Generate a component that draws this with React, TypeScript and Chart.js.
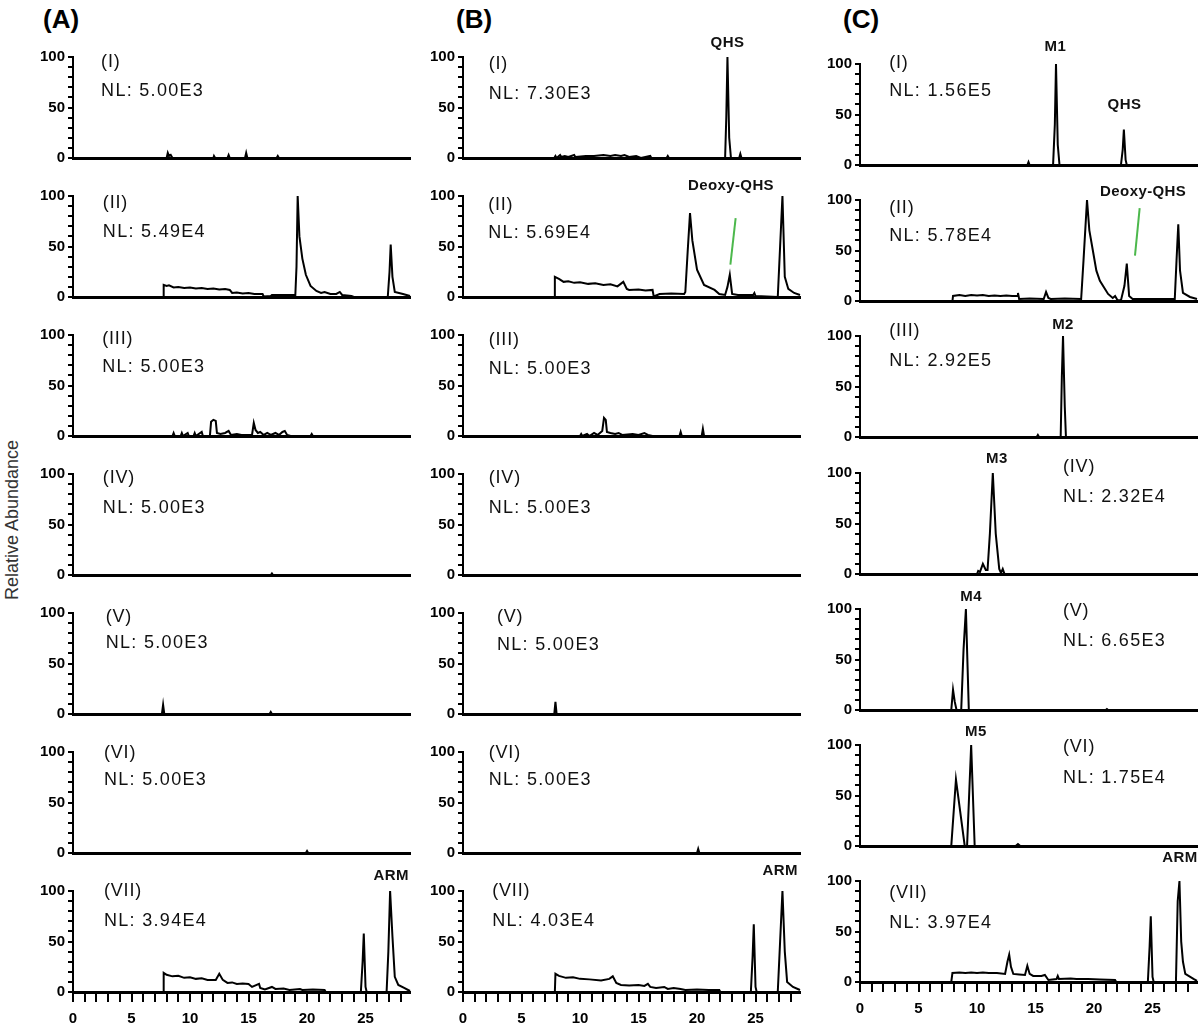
import React, { useEffect, useRef } from "react";
import { Chart, registerables } from "chart.js";
Chart.register(...registerables);

type Pt = [number, number];

// ---------------- data ----------------
const columnTitles = ["(A)", "(B)", "(C)"];
const rowTags = ["(I)", "(II)", "(III)", "(IV)", "(V)", "(VI)", "(VII)"];
const nlA = ["5.00E3", "5.49E4", "5.00E3", "5.00E3", "5.00E3", "5.00E3", "3.94E4"];
const nlB = ["7.30E3", "5.69E4", "5.00E3", "5.00E3", "5.00E3", "5.00E3", "4.03E4"];
const nlC = ["1.56E5", "5.78E4", "2.92E5", "2.32E4", "6.65E3", "1.75E4", "3.97E4"];
const yAxisTitle = "Relative Abundance";
const timeLabelStep = 5;
const abundanceLabelStep = 50;
const timeMax = 28.8;

const traceA1: Pt[] = [[0,0],[8.0,0],[8.1,5],[8.2,2],[8.35,3],[8.5,0],[12.0,0],[12.05,2],[12.15,0],[13.2,0],[13.3,3],[13.4,0],[14.7,0],[14.8,5],[14.9,0],[17.4,0],[17.5,2],[17.6,0],[28.8,0]];
const traceA2: Pt[] = [[0,0],[7.7,0],[7.75,12],[8.0,11],[8.2,11.5],[8.6,9.5],[9.0,10],[9.5,9],[10.0,9.5],[10.5,8.5],[11.0,9],[11.5,8],[12.0,8.5],[12.5,7.5],[13.0,8],[13.4,7],[13.6,4],[14.0,4.5],[14.5,3.5],[15.0,4],[15.5,3],[16.2,3],[16.3,0.5],[16.9,1],[17.0,2],[19.0,2],[19.1,30],[19.2,100],[19.35,60],[19.6,38],[19.9,22],[20.3,11],[20.8,6],[21.2,4],[21.5,5],[22.0,3],[22.5,3],[22.8,5],[23.0,2],[23.8,1],[24.0,0],[26.9,0],[27.05,25],[27.15,52],[27.3,20],[27.5,5],[28.2,3],[28.8,1]];
const traceA3: Pt[] = [[0,0],[8.5,0],[8.6,3],[8.7,0],[9.2,0],[9.3,3],[9.4,0],[9.8,3],[9.9,0],[10.3,0],[10.4,3],[10.5,0],[11.0,4],[11.1,0],[11.7,0],[11.8,14],[12.0,16],[12.2,15],[12.3,3],[12.6,2],[13.0,3],[13.3,5],[13.5,1],[14.0,2],[14.4,1],[15.3,1],[15.45,13],[15.6,6],[15.8,3],[16.0,4],[16.3,1],[16.6,3],[16.9,1],[17.3,3],[17.6,1],[17.9,4],[18.1,5],[18.3,1],[18.6,0],[20.3,0],[20.4,2],[20.5,0],[28.8,0]];
const traceA4: Pt[] = [[0,0],[16.9,0],[17.0,1.5],[17.1,0],[28.8,0]];
const traceA5: Pt[] = [[0,0],[7.6,0],[7.7,9],[7.8,0],[16.8,0],[16.9,2],[17.0,0],[28.8,0]];
const traceA6: Pt[] = [[0,0],[19.9,0],[20.0,2],[20.1,0],[28.8,0]];
const traceA7: Pt[] = [[0,0],[7.7,0],[7.75,19],[8.0,17],[8.5,15.5],[9.0,16],[9.5,14],[10.0,14.5],[10.5,13],[11.0,13.5],[11.5,12],[12.2,12],[12.5,18],[12.8,12],[13.2,9],[13.6,9.5],[14.0,8],[14.5,8.5],[15.0,8],[15.3,5],[15.9,8],[16.0,4],[16.4,2.5],[17.0,5],[17.3,3],[18.0,3.5],[18.5,2],[19.4,3],[19.6,2],[20.5,2.5],[21.5,2],[21.6,0],[24.6,0],[24.75,30],[24.85,58],[25.0,5],[25.1,0],[26.8,0],[26.95,40],[27.1,100],[27.3,55],[27.5,15],[27.8,7],[28.3,4],[28.8,1]];

const traceB1: Pt[] = [[0,0],[7.8,0],[7.9,2],[8.0,0],[8.3,3],[8.4,1],[8.7,2],[9.0,1],[9.5,3],[9.6,1],[10.5,2],[11.2,2],[12.0,3],[12.6,2],[13.0,3],[13.5,2],[13.8,3],[14.2,1],[14.8,2],[15.2,0],[16.0,2],[16.1,0],[17.4,0],[17.5,2],[17.6,0],[22.4,0],[22.5,40],[22.6,100],[22.75,20],[22.9,0],[23.6,0],[23.7,4],[23.8,0],[28.8,0]];
const traceB2: Pt[] = [[0,0],[7.8,0],[7.85,20],[8.2,18],[8.6,15],[9.0,15.5],[9.5,14],[10.0,14.5],[10.7,13],[11.3,13.5],[12.0,12],[12.6,12.5],[13.2,10.5],[13.7,15],[14.0,8],[14.2,7],[15.0,7.5],[15.6,6.5],[16.2,7],[16.3,0.5],[16.8,3],[17.8,3.5],[18.9,3],[19.0,5],[19.2,45],[19.4,83],[19.6,56],[20.0,27],[20.6,12],[21.5,7],[21.9,3],[22.4,2],[22.6,10],[22.8,22],[23.0,3],[23.5,2],[24.8,2],[24.9,4],[25.0,1],[26.9,0],[27.1,50],[27.3,100],[27.5,20],[27.8,8],[28.3,4],[28.8,2]];
const traceB3: Pt[] = [[0,0],[10.0,0],[10.1,2],[10.2,0],[10.6,2],[10.8,0],[11.2,3],[11.5,1],[11.9,5],[12.05,18],[12.2,16],[12.3,4],[12.6,3],[13.0,2],[13.3,3],[13.6,1],[14.5,2],[15.0,1],[15.5,3],[15.8,1],[16.2,0],[18.5,0],[18.6,4],[18.7,0],[20.4,0],[20.5,7],[20.6,0],[28.8,0]];
const traceB4: Pt[] = [[0,0],[28.8,0]];
const traceB5: Pt[] = [[0,0],[7.8,0],[7.9,12],[8.0,0],[28.8,0]];
const traceB6: Pt[] = [[0,0],[20.0,0],[20.1,4],[20.2,0],[28.8,0]];
const traceB7: Pt[] = [[0,0],[7.85,0],[7.9,18],[8.2,16],[8.8,14],[9.4,14.5],[10.0,13],[10.8,12.5],[11.8,11.5],[12.5,13],[12.8,15.5],[13.1,9],[13.5,7],[14.2,6.5],[15.0,7],[15.5,6],[15.8,8],[16.0,5],[16.5,4],[17.2,5],[17.5,3],[18.0,4],[18.6,3],[19.0,2],[20.0,2.5],[21.0,2],[21.9,2],[22.0,0],[24.6,0],[24.75,35],[24.85,67],[25.0,5],[25.1,0],[26.9,0],[27.1,50],[27.3,100],[27.5,40],[27.7,10],[28.2,5],[28.8,2]];

const traceC1: Pt[] = [[0,0],[14.3,0],[14.4,3],[14.5,0],[16.5,0],[16.65,40],[16.75,100],[16.9,20],[17.05,0],[22.3,0],[22.45,15],[22.55,35],[22.7,5],[22.8,0],[28.8,0]];
const traceC2: Pt[] = [[0,0],[7.9,0],[7.95,5],[8.5,6],[9.0,5],[9.5,6],[10.0,5.5],[10.5,6],[11.0,5],[11.5,5.5],[12.0,5],[12.5,5.5],[13.0,5],[13.45,5],[13.5,8],[13.6,2],[14.5,2.5],[15.7,2],[15.9,9],[16.1,3],[16.3,2],[17.5,2.5],[18.9,2],[19.1,40],[19.4,100],[19.6,70],[19.9,50],[20.2,30],[20.5,20],[21.2,7],[21.6,3],[21.8,5],[22.0,1],[22.3,0.5],[22.6,15],[22.8,37],[23.0,5],[23.3,2],[26.9,2],[27.05,40],[27.2,76],[27.35,30],[27.6,8],[28.2,4],[28.8,2]];
const traceC3: Pt[] = [[0,0],[15.1,0],[15.2,2],[15.3,0],[17.15,0],[17.25,60],[17.35,100],[17.5,30],[17.6,0],[28.8,0]];
const traceC4: Pt[] = [[0,0],[10.0,0],[10.1,3],[10.25,2],[10.5,10],[10.75,4],[10.9,4],[11.1,40],[11.35,100],[11.6,40],[11.9,5],[12.05,1],[12.2,5],[12.35,0],[28.8,0]];
const traceC5: Pt[] = [[0,0],[7.8,0],[7.95,20],[8.1,8],[8.25,0],[8.65,0],[8.85,60],[9.05,100],[9.2,40],[9.3,0],[21.0,0],[21.1,1],[21.2,0],[28.8,0]];
const traceC6: Pt[] = [[0,0],[7.8,0],[8.2,66],[8.95,0],[9.15,0],[9.5,100],[9.8,0],[13.3,0],[13.5,2],[13.7,0],[28.8,0]];
const traceC7: Pt[] = [[0,0],[7.8,0],[7.9,9],[8.5,9.5],[9.0,9],[9.5,9.5],[10.0,9],[10.5,9.5],[11.0,9],[11.7,9],[12.4,8],[12.6,20],[12.75,27],[12.9,15],[13.1,8],[13.6,7.5],[14.1,7],[14.3,16],[14.5,8],[14.8,6],[15.5,6],[15.8,7],[16.1,2],[16.8,3],[16.9,6],[17.0,3],[18.0,3.5],[18.5,3],[19.5,3],[20.5,2.5],[21.8,2],[21.9,0],[24.6,0],[24.75,35],[24.85,65],[25.0,5],[25.1,0],[27.0,0],[27.15,80],[27.3,100],[27.45,40],[27.6,20],[27.8,8],[28.5,3],[28.8,1]];

const tracesA = [traceA1, traceA2, traceA3, traceA4, traceA5, traceA6, traceA7];
const tracesB = [traceB1, traceB2, traceB3, traceB4, traceB5, traceB6, traceB7];
const tracesC = [traceC1, traceC2, traceC3, traceC4, traceC5, traceC6, traceC7];

// green pointer lines (Deoxy-QHS)
const markerB2: Pt[] = [[23.3, 78], [22.85, 32]];
const markerC2: Pt[] = [[23.9, 92], [23.5, 45]];

// peak names: column, row, text, time, abundance position
const peakLabels = [
  { col: 0, row: 6, text: "ARM", t: 27.2, v: 115 },
  { col: 1, row: 0, text: "QHS", t: 22.6, v: 114 },
  { col: 1, row: 1, text: "Deoxy-QHS", t: 22.9, v: 110 },
  { col: 1, row: 6, text: "ARM", t: 27.1, v: 120 },
  { col: 2, row: 0, text: "M1", t: 16.7, v: 117 },
  { col: 2, row: 0, text: "QHS", t: 22.6, v: 60 },
  { col: 2, row: 1, text: "Deoxy-QHS", t: 24.2, v: 108 },
  { col: 2, row: 2, text: "M2", t: 17.35, v: 111 },
  { col: 2, row: 3, text: "M3", t: 11.7, v: 114 },
  { col: 2, row: 4, text: "M4", t: 9.5, v: 112 },
  { col: 2, row: 5, text: "M5", t: 9.9, v: 113 },
  { col: 2, row: 6, text: "ARM", t: 27.35, v: 123 },
];

// ---------------- layout ----------------
// tag placement per panel: [time, roman tag level, NL level]
const tagPosA = [[2.4,95,66],[2.55,93,64],[2.5,96,68],[2.55,96,66],[2.8,96,70],[2.65,99,72],[2.65,100,70]];
const tagPosB = [[2.2,93,63],[2.15,91,63],[2.2,95,66],[2.2,96,66],[2.9,96,68],[2.2,99,72],[2.5,100,70]];
const tagPosC = [[2.5,101,73],[2.5,92,64],[2.5,105,75],[17.35,106,76],[17.35,98,68],[17.35,98,67],[2.5,88,58]];

const AXIS_X = [73, 463, 860];
const PX_PER_MIN = 11.7;
const PLOT_H = 101;
const YW = 50;
const PT = 36;
const PR = 12;
const PB = 12;
const FONT = '"Liberation Sans", Arial, Helvetica, sans-serif';

function baseY(col: number, row: number) {
  return Math.round(col === 2 ? 165 + 136.2 * row : 158 + 139 * row);
}

const annotate = {
  id: "annotate",
  afterDatasetsDraw(chart: any, _a: any, opts: any) {
    const { ctx } = chart;
    const xs = chart.scales.x;
    const ys = chart.scales.y;
    ctx.save();
    ctx.fillStyle = "#111";
    ctx.textBaseline = "middle";
    for (const it of opts.items || []) {
      ctx.font = it.font;
      (ctx as any).letterSpacing = it.spacing || "0px";
      ctx.textAlign = it.align;
      ctx.fillText(it.text, xs.getPixelForValue(it.t), ys.getPixelForValue(it.v));
    }
    ctx.restore();
  },
};

function Panel({ col, row }: { col: number; row: number }) {
  const ref = useRef<HTMLCanvasElement>(null);
  const bottom = row === 6;
  const XH = bottom ? 44 : 3;
  const padB = bottom ? 0 : PB;
  const plotW = timeMax * PX_PER_MIN;
  const w = Math.round(YW + plotW + PR);
  const h = PT + PLOT_H + XH + padB;
  const left = AXIS_X[col] - YW;
  const top = baseY(col, row) - PLOT_H - PT;

  useEffect(() => {
    const trace = [tracesA, tracesB, tracesC][col][row];
    const nl = [nlA, nlB, nlC][col][row];
    const tp = [tagPosA, tagPosB, tagPosC][col][row];
    const datasets: any[] = [
      {
        data: trace.map(([x, y]) => ({ x, y })),
        borderColor: "#000",
        borderWidth: 2,
        pointRadius: 0,
        tension: 0,
        fill: false,
        clip: 6,
      },
    ];
    const marker = col === 1 && row === 1 ? markerB2 : col === 2 && row === 1 ? markerC2 : null;
    if (marker) {
      datasets.push({
        data: marker.map(([x, y]) => ({ x, y })),
        borderColor: "#4cb84c",
        borderWidth: 2,
        pointRadius: 0,
        fill: false,
        clip: false,
      });
    }
    const items: any[] = [
      { text: rowTags[row], t: tp[0], v: tp[1], font: `18px ${FONT}`, align: "left", spacing: "0.8px" },
      { text: "NL: " + nl, t: tp[0], v: tp[2], font: `18px ${FONT}`, align: "left", spacing: "1.3px" },
    ];
    peakLabels
      .filter((p) => p.col === col && p.row === row)
      .forEach((p) => items.push({ text: p.text, t: p.t, v: p.v, font: `bold 15px ${FONT}`, align: "center", spacing: "0.4px" }));

    const chart = new Chart(ref.current!, {
      type: "line",
      data: { datasets },
      plugins: [annotate as any],
      options: {
        responsive: false,
        animation: false,
        events: [],
        layout: { padding: { top: PT, right: PR, left: 0, bottom: padB } },
        plugins: {
          legend: { display: false },
          tooltip: { enabled: false },
          annotate: { items },
        } as any,
        scales: {
          x: {
            type: "linear",
            min: 0,
            max: timeMax,
            afterFit: (s: any) => {
              s.height = XH;
              s.paddingLeft = 0;
              s.paddingRight = 0;
            },
            border: { display: true, color: "#000", width: 3 },
            grid: { display: true, drawOnChartArea: false, drawTicks: bottom, tickLength: 10, color: "#000", lineWidth: 2 },
            ticks: {
              display: bottom,
              stepSize: 1,
              autoSkip: false,
              includeBounds: false,
              maxRotation: 0,
              padding: 8,
              color: "#000",
              font: { family: FONT, size: 15, weight: "bold" },
              callback: (v: any) => (Number(v) % timeLabelStep === 0 ? String(v) : ""),
            },
          },
          y: {
            type: "linear",
            min: 0,
            max: 100,
            afterFit: (s: any) => {
              s.width = YW;
              s.paddingTop = 0;
              s.paddingBottom = 0;
            },
            border: { display: true, color: "#000", width: 2 },
            grid: { display: true, drawOnChartArea: false, drawTicks: true, tickLength: 5, color: "#000", lineWidth: 2 },
            ticks: {
              stepSize: 10,
              autoSkip: false,
              includeBounds: false,
              padding: 3,
              color: "#000",
              font: { family: FONT, size: 15, weight: "bold" },
              callback: (v: any) => (Number(v) % abundanceLabelStep === 0 ? String(v) : ""),
            },
          },
        },
      } as any,
    });
    return () => chart.destroy();
  }, [col, row]);

  return (
    <canvas
      ref={ref}
      width={w}
      height={h}
      style={{ position: "absolute", left, top, width: w, height: h }}
    />
  );
}

const headerX = [43, 456, 843];

export default function App() {
  const panels: { col: number; row: number }[] = [];
  for (let c = 0; c < 3; c++) for (let r = 0; r < 7; r++) panels.push({ col: c, row: r });
  return (
    <div style={{ position: "absolute", left: 0, top: 0, width: 1200, height: 1032, background: "#fff", overflow: "hidden" }}>
      {columnTitles.map((t, i) => (
        <div
          key={t}
          style={{
            position: "absolute",
            left: headerX[i],
            top: 6,
            font: `bold 26px ${FONT}`,
            lineHeight: "26px",
            color: "#000",
            whiteSpace: "nowrap",
          }}
        >
          {t}
        </div>
      ))}
      <div
        style={{
          position: "absolute",
          left: 12,
          top: 520,
          transform: "translate(-50%, -50%) rotate(-90deg)",
          font: `18px ${FONT}`,
          color: "#333",
          whiteSpace: "nowrap",
        }}
      >
        {yAxisTitle}
      </div>
      {panels.map((p) => (
        <Panel key={`${p.col}-${p.row}`} col={p.col} row={p.row} />
      ))}
    </div>
  );
}
